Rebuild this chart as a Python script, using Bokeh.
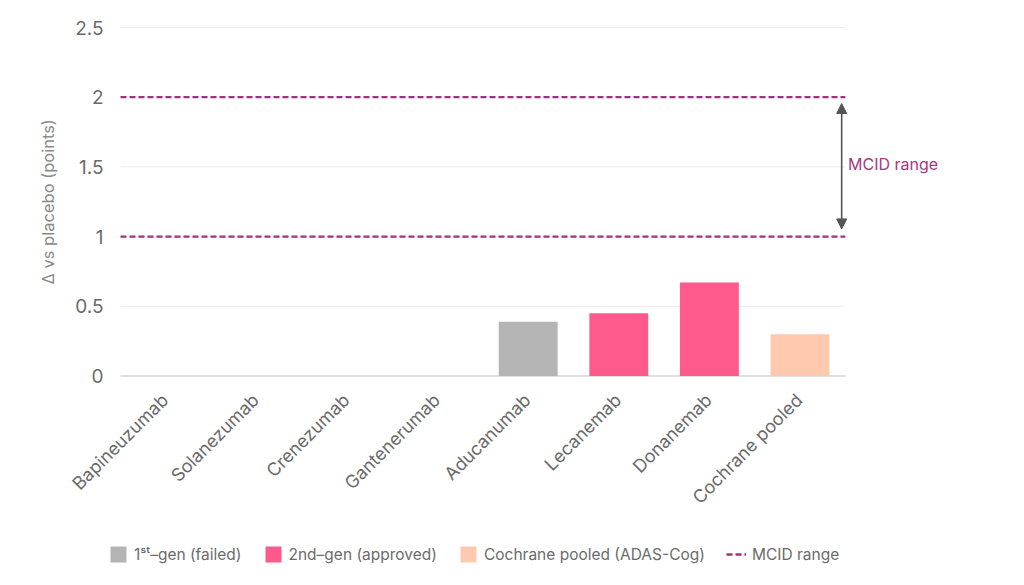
import math
from bokeh.plotting import figure
from bokeh.models import (ColumnDataSource, Arrow, NormalHead, Label,
                          Legend, LegendItem)
from bokeh.core.properties import value
from bokeh.embed import file_html
from bokeh.resources import INLINE

categories = ["Bapineuzumab", "Solanezumab", "Crenezumab", "Gantenerumab",
              "Aducanumab", "Lecanemab", "Donanemab", "Cochrane pooled"]
values = [0.0, 0.0, 0.0, 0.0, 0.39, 0.45, 0.67, 0.30]
groups = ["1ˢᵗ–gen (failed)"] * 5 + ["2nd–gen (approved)"] * 2 + ["Cochrane pooled (ADAS-Cog)"]
group_names = ["1ˢᵗ–gen (failed)", "2nd–gen (approved)", "Cochrane pooled (ADAS-Cog)"]
group_colors = ["#b4b4b4", "#ff5a8b", "#ffc9b0"]
mcid_low = 1.0
mcid_high = 2.0
y_ticks = [0, 0.5, 1, 1.5, 2, 2.5]
y_tick_labels = ["0", "0.5", "1", "1.5", "2", "2.5"]
y_title = "Δ vs placebo (points)"

FONT = "Inter"
MCID_COLOR = "#a0317e"
TXT = "#6b6b6b"

W_PX, H_PX = 1016, 577
LEFT_PX, ZERO_PX = 120.0, 375.5      # plot-area left edge / zero baseline on the canvas
CAT_PX, UNIT_PX = 90.6, 139.4        # px per category / px per point

n = len(categories)
xs = list(range(n))
x_lo, x_hi = -0.5, n - 0.5
x_start = x_lo - LEFT_PX / CAT_PX
x_end = x_lo + (W_PX - LEFT_PX) / CAT_PX
y_end = ZERO_PX / UNIT_PX
y_start = (ZERO_PX - H_PX) / UNIT_PX

p = figure(x_range=(x_start, x_end), y_range=(y_start, y_end),
           width=W_PX, height=H_PX, output_backend="svg", toolbar_location=None,
           x_axis_location=None, y_axis_location=None, min_border=0)
p.outline_line_color = None
p.background_fill_color = "white"
p.border_fill_color = "white"
p.xgrid.grid_line_color = None
p.ygrid.grid_line_color = None

# gridlines
grid_y = [t for t in y_ticks if t > 0]
p.segment(x0=[x_lo] * len(grid_y), x1=[x_hi] * len(grid_y), y0=grid_y, y1=grid_y,
          line_color="#ececec", line_width=1)
# baseline
p.segment(x0=[x_lo], x1=[x_hi], y0=[0], y1=[0], line_color="#d4d4d4", line_width=1.6)

legend_items = []
for gname, gcol in zip(group_names, group_colors):
    idx = [i for i, g in enumerate(groups) if g == gname]
    src = ColumnDataSource(dict(x=[xs[i] for i in idx], top=[values[i] for i in idx]))
    r = p.vbar(x="x", top="top", width=0.65, source=src, fill_color=gcol, line_color=None)
    legend_items.append(LegendItem(label=gname, renderers=[r]))

# MCID dashed lines
p.segment(x0=[x_lo, x_lo], x1=[x_hi, x_hi], y0=[mcid_low, mcid_high], y1=[mcid_low, mcid_high],
          line_color=MCID_COLOR, line_width=2.2, line_dash="6 3")
dummy = p.line(x=[0], y=[-5], line_color=MCID_COLOR, line_width=2.5, line_dash="6 3")
legend_items.append(LegendItem(label="MCID range", renderers=[dummy]))

# y tick labels and title
p.text(x=[x_lo - 17 / CAT_PX] * len(y_ticks), y=y_ticks, text=y_tick_labels,
       text_font=value(FONT), text_font_size="19px", text_color=TXT,
       text_align="right", text_baseline="middle")
p.text(x=[x_lo - 73 / CAT_PX], y=[(y_ticks[0] + y_ticks[-1]) / 2], text=[y_title],
       angle=math.pi / 2, text_font=value(FONT), text_font_size="16.5px",
       text_color="#8a8a8a", text_align="center", text_baseline="middle")

# x category labels
p.text(x=[x - 0.01 for x in xs], y=[-0.15] * n, text=categories, angle=math.pi / 4,
       text_font=value(FONT), text_font_size="18px", text_color=TXT,
       text_align="right", text_baseline="middle")

arrow_x = x_hi - 0.04
p.add_layout(Arrow(start=NormalHead(size=10, fill_color="#555555", line_color="#555555"),
                   end=NormalHead(size=10, fill_color="#555555", line_color="#555555"),
                   x_start=arrow_x, y_start=mcid_low + 0.055, x_end=arrow_x, y_end=mcid_high - 0.045,
                   line_color="#555555", line_width=1.6))
p.add_layout(Label(x=x_hi + 0.03, y=(mcid_low + mcid_high) / 2 + 0.022, text="MCID range",
                   text_font=FONT, text_font_size="16px", text_color="#a8367f",
                   text_baseline="middle", text_align="left"))

leg = Legend(items=legend_items, orientation="horizontal", location=(108, 13))
leg.border_line_color = None
leg.background_fill_alpha = 0
leg.label_text_font = FONT
leg.label_text_font_size = "15.5px"
leg.label_text_color = TXT
leg.glyph_width = 20
leg.glyph_height = 20
leg.spacing = 21
leg.label_standoff = 6
leg.padding = 0
leg.margin = 0
p.add_layout(leg, "center")

open("out.html", "w").write(file_html(p, INLINE))
